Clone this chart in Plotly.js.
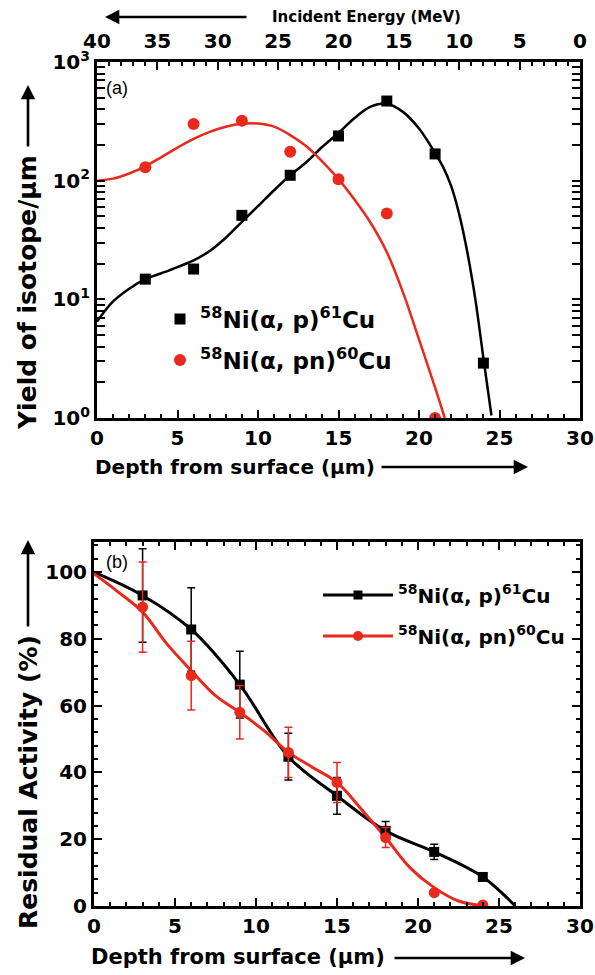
<!DOCTYPE html>
<html><head><meta charset="utf-8">
<script src="https://cdn.plot.ly/plotly-3.0.1.min.js"></script>
<style>body{margin:0;background:#fff}#chart{width:595px;height:975px}</style>
</head><body><div id="chart"></div>
<script>
// ---------- Panel (a): yield vs depth ----------
const depthA61 = [3, 6, 9, 12, 15, 18, 21, 24];
const yieldCu61 = [14.8, 18, 51, 111, 238, 469, 168, 2.9];
const depthA60 = [3, 6, 9, 12, 15, 18, 21];
const yieldCu60 = [130, 300, 320, 175, 103, 53, 1.0];
const fitA61X = [0, 1, 2, 3, 4, 5, 6, 7, 8, 9, 10, 11, 12, 13, 14, 15, 16, 17, 18, 19, 20, 21, 21.5, 22, 22.5, 23, 23.5, 24, 24.5];
const fitA61Y = [6.5, 9.6, 12.3, 14.8, 16.6, 18.7, 21.3, 25.5, 33, 45, 61, 83, 111, 143, 193, 252, 337, 420, 445, 380, 275, 171, 130, 90, 52, 25, 10, 3.2, 1.05];
const fitA60X = [0, 1, 2, 3, 4, 5, 6, 7, 8, 9, 10, 11, 12, 13, 14, 15, 16, 17, 18, 19, 20, 21, 21.6];
const fitA60Y = [100, 104, 115, 132, 158, 190, 225, 258, 285, 302, 303, 285, 242, 195, 145, 103, 69, 44, 25, 11.5, 4.6, 1.8, 1.0];
const energyTickVals = [40, 35, 30, 25, 20, 15, 10, 5, 0];
const yTickVals = [1, 10, 100, 1000];
const yTickText = ['10<sup>0</sup>', '10<sup>1</sup>', '10<sup>2</sup>', '10<sup>3</sup>'];

// ---------- Panel (b): residual activity ----------
const depthB = [3, 6, 9, 12, 15, 18, 21, 24];
const resCu61 = [93, 82.8, 66.3, 44.7, 33, 22.5, 16.2, 8.7];
const errCu61 = [14, 12.5, 10, 7, 5.5, 2.8, 2.3, 1];
const resCu60 = [89.5, 69, 58, 46, 37, 20.5, 4, 0.3];
const errCu60 = [13.5, 10.3, 8, 7.5, 6, 3, 0, 0];
const fitB61X = [0, 3, 6, 9, 12, 15, 18, 21, 24, 26];
const fitB61Y = [100, 93, 82.8, 66.3, 44.7, 33, 22.5, 16.2, 8.7, 0];
const fitB60X = [0, 1.5, 3, 4.5, 6, 7.5, 9, 10.5, 12, 13.5, 15, 16.5, 18, 19.5, 21, 22.5, 24.2];
const fitB60Y = [99.5, 94, 88, 78.5, 70.5, 63, 58, 52.5, 46, 41.5, 37, 29, 20.5, 11.5, 5.5, 1.5, 0];

const name61 = '<sup>58</sup>Ni(α, p)<sup>61</sup>Cu';
const name60 = '<sup>58</sup>Ni(α, pn)<sup>60</sup>Cu';

const RED = '#e8291c';
const FAM = 'DejaVu Sans';
const W = 595, H = 975;
const px = v => v / W;
const py = v => 1 - v / H;

const tickFont = {family: FAM, size: 20, weight: 'bold', color: '#000'};

const data = [
  {x: fitA61X, y: fitA61Y, xaxis: 'x', yaxis: 'y', mode: 'lines', line: {color: '#000', width: 2.5, shape: 'spline'}, showlegend: false},
  {x: fitA60X, y: fitA60Y, xaxis: 'x', yaxis: 'y', mode: 'lines', line: {color: RED, width: 2.5, shape: 'spline'}, showlegend: false},
  {x: depthA61, y: yieldCu61, xaxis: 'x', yaxis: 'y', mode: 'markers', name: name61, legend: 'legend', showlegend: true,
   marker: {symbol: 'square', size: 11, color: '#000'}},
  {x: depthA60, y: yieldCu60, xaxis: 'x', yaxis: 'y', mode: 'markers', name: name60, legend: 'legend2', showlegend: true,
   marker: {symbol: 'circle', size: 12, color: RED}},
  // carrier for the top energy axis (no visible marks)
  {x: energyTickVals, y: energyTickVals.map(() => null), xaxis: 'x3', yaxis: 'y', mode: 'markers', showlegend: false,
   hoverinfo: 'skip', marker: {opacity: 0}},

  {x: fitB61X, y: fitB61Y, xaxis: 'x2', yaxis: 'y2', mode: 'lines', line: {color: '#000', width: 3, shape: 'spline'}, showlegend: false},
  {x: fitB60X, y: fitB60Y, xaxis: 'x2', yaxis: 'y2', mode: 'lines', line: {color: RED, width: 3, shape: 'spline'}, showlegend: false},
  {x: depthB, y: resCu61, xaxis: 'x2', yaxis: 'y2', mode: 'markers', showlegend: false,
   marker: {symbol: 'square', size: 10, color: '#000'},
   error_y: {type: 'data', array: errCu61, color: '#000', thickness: 1.5, width: 4}},
  {x: depthB, y: resCu60, xaxis: 'x2', yaxis: 'y2', mode: 'markers', showlegend: false,
   marker: {symbol: 'circle', size: 11, color: RED},
   error_y: {type: 'data', array: errCu60, color: RED, thickness: 1.5, width: 4}},
  // legend entries for panel (b) (no data drawn)
  {x: [null], y: [null], xaxis: 'x2', yaxis: 'y2', mode: 'lines+markers', name: name61, legend: 'legend3', showlegend: true,
   line: {color: '#000', width: 3}, marker: {symbol: 'square', size: 9, color: '#000'}},
  {x: [null], y: [null], xaxis: 'x2', yaxis: 'y2', mode: 'lines+markers', name: name60, legend: 'legend4', showlegend: true,
   line: {color: RED, width: 3}, marker: {symbol: 'circle', size: 10, color: RED}}
];

function linAxis(extra) {
  return Object.assign({
    showline: true, linewidth: 3, linecolor: '#000', ticks: 'inside', ticklen: 8, tickwidth: 2, tickcolor: '#000',
    showgrid: false, zeroline: false, tickfont: tickFont, fixedrange: true
  }, extra);
}

function leg(x, y, iw, size) {
  return {x: px(x), y: py(y), xanchor: 'left', yanchor: 'middle', bgcolor: 'rgba(0,0,0,0)', borderwidth: 0,
          font: {family: FAM, size: size, weight: 'bold', color: '#000'}, itemwidth: iw, visible: true};
}

const annFont = (s, w) => ({family: FAM, size: s, weight: w || 'bold', color: '#000'});
function arrow(tx, ty, fx, fy) {
  return {xref: 'paper', yref: 'paper', x: px(tx), y: py(ty), ax: fx - tx, ay: fy - ty, text: '', showarrow: true,
          arrowhead: 2, arrowsize: 1.1, arrowwidth: 2.6, arrowcolor: '#000'};
}

const layout = {
  width: W, height: H, margin: {l: 0, r: 0, t: 0, b: 0}, paper_bgcolor: '#fff', plot_bgcolor: '#fff',
  font: {family: FAM, color: '#000'}, showlegend: true,
  xaxis: linAxis({domain: [px(97), px(580)], anchor: 'y', range: [0, 30], dtick: 5, tick0: 0,
                  minor: {ticks: 'inside', ticklen: 4, tickwidth: 2, dtick: 1, tickcolor: '#000'}}),
  xaxis3: linAxis({overlaying: 'x', anchor: 'y', side: 'top', range: [40, 0], dtick: 5, tick0: 0, ticklabelstandoff: 3,
                   minor: {ticks: 'inside', ticklen: 4, tickwidth: 2, dtick: 1, tickcolor: '#000'}}),
  yaxis: linAxis({domain: [py(418), py(62)], anchor: 'x', type: 'log', range: [0, 3], mirror: 'allticks',
                  tickmode: 'array', tickvals: yTickVals, ticktext: yTickText,
                  minor: {ticks: 'inside', ticklen: 4, tickwidth: 2, dtick: 'D1', tickcolor: '#000'}}),
  xaxis2: linAxis({domain: [px(94), px(580)], anchor: 'y2', range: [0, 30], dtick: 5, tick0: 0, mirror: 'allticks',
                   minor: {ticks: 'inside', ticklen: 4, tickwidth: 2, dtick: 1, tickcolor: '#000'}}),
  yaxis2: linAxis({domain: [py(906), py(542)], anchor: 'x2', range: [0, 109], dtick: 20, tick0: 0, mirror: 'allticks',
                   minor: {ticks: 'inside', ticklen: 4, tickwidth: 2, dtick: 4, tickcolor: '#000'}}),
  legend: leg(160, 319, 30, 23),
  legend2: leg(160, 360, 30, 23),
  legend3: leg(318, 595, 70, 20),
  legend4: leg(318, 636, 70, 20),
  annotations: [
    {xref: 'paper', yref: 'paper', x: px(366), y: py(17), text: 'Incident Energy (MeV)', showarrow: false,
     xanchor: 'center', yanchor: 'middle', font: annFont(15)},
    arrow(105, 17, 248, 17),
    {xref: 'paper', yref: 'paper', x: px(104), y: py(88), text: '(a)', showarrow: false,
     xanchor: 'left', yanchor: 'middle', font: {family: 'Liberation Sans', size: 18, color: '#000'}},
    {xref: 'paper', yref: 'paper', x: px(104), y: py(562), text: '(b)', showarrow: false,
     xanchor: 'left', yanchor: 'middle', font: {family: 'Liberation Sans', size: 18, color: '#000'}},
    {xref: 'paper', yref: 'paper', x: px(93), y: py(467), text: 'Depth from surface (μm)', showarrow: false,
     xanchor: 'left', yanchor: 'middle', font: annFont(20)},
    arrow(528, 467, 380, 467),
    {xref: 'paper', yref: 'paper', x: px(28), y: py(293), text: 'Yield of isotope/μm', showarrow: false, textangle: -90,
     xanchor: 'center', yanchor: 'middle', font: annFont(25)},
    arrow(28, 85, 28, 148),
    {xref: 'paper', yref: 'paper', x: px(89), y: py(957), text: 'Depth from surface (μm)', showarrow: false,
     xanchor: 'left', yanchor: 'middle', font: annFont(21)},
    arrow(525, 958, 393, 958),
    {xref: 'paper', yref: 'paper', x: px(28), y: py(782), text: 'Residual Activity (%)', showarrow: false, textangle: -90,
     xanchor: 'center', yanchor: 'middle', font: annFont(25)},
    arrow(28, 540, 28, 628)
  ]
};

Plotly.newPlot('chart', data, layout, {staticPlot: true});
</script>
</body></html>
